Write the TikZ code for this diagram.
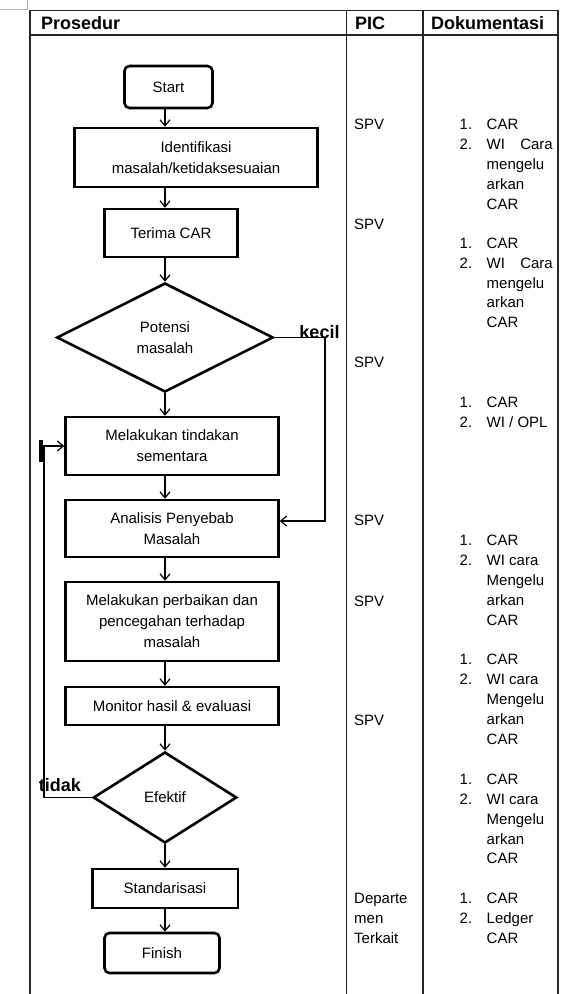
\documentclass[tikz,border=0pt]{standalone}
\usepackage{fontspec}
\setmainfont{Liberation Sans}
\usetikzlibrary{shapes.geometric,arrows.meta}
\newcommand\fsz{\fontsize{15}{20}\selectfont}
\newcommand\ffl{\fontsize{15}{21}\selectfont}
\newcommand\fhd{\fontsize{18}{20}\selectfont\bfseries}
\begin{document}
\begin{tikzpicture}[x=1pt,y=-1pt,
 proc/.style={draw,line width=2.6pt,inner sep=0pt,align=center,font=\ffl},
 term/.style={proc,rounded corners=5pt},
 dec/.style={proc,diamond},
 arr/.style={draw,line width=1.2pt,-{Straight Barb[length=6pt,width=10pt,line width=1.2pt]}},
 tline/.style={line width=1.6pt,black!85},
 txt/.style={font=\fsz,inner sep=0pt,anchor=base west},
 txe/.style={txt,anchor=base east},
 hdr/.style={font=\fhd,inner sep=0pt,anchor=base west},
 lab/.style={font=\fhd,inner sep=0pt,anchor=base}]
\useasboundingbox (0,0) rectangle (561,994);
% frame artifact
\draw[black!25,line width=0.8pt] (0,9.5) -- (28,9.5);
\draw[black!35,line width=1pt] (27.5,0) -- (27.5,9.5);
% table
\draw[tline] (30,994) -- (30,10.5) -- (558,10.5) -- (558,994);
\draw[tline] (30,35) -- (558,35);
\draw[tline] (346.3,10.5) -- (346.3,994);
\draw[tline] (423,10.5) -- (423,994);
% headers
\node[hdr] (h1) at (41,29) {Prosedur};
\node[hdr] (h2) at (355,29) {PIC};
\node[hdr] (h3) at (431,29) {Dokumentasi};
% flow nodes
\node[term,minimum width=88pt,minimum height=42pt] (start) at (168.5,87) {Start};
\node[proc,minimum width=243pt,minimum height=59pt] (ident) at (196,157.5) {Identifikasi\\masalah/ketidaksesuaian};
\node[proc,minimum width=133pt,minimum height=48pt] (terima) at (171,233) {Terima CAR};
\node[dec,minimum width=216.5pt,minimum height=109pt] (pot) at (165,337.5) {Potensi\\masalah};
\node[proc,minimum width=213pt,minimum height=58pt] (tind) at (172,446) {Melakukan tindakan\\sementara};
\node[proc,minimum width=213pt,minimum height=57pt] (ana) at (172,528.5) {Analisis Penyebab\\Masalah};
\node[proc,minimum width=213pt,minimum height=79pt] (perb) at (172,621.5) {Melakukan perbaikan dan\\pencegahan terhadap\\masalah};
\node[proc,minimum width=213pt,minimum height=38pt] (mon) at (172,706) {Monitor hasil \& evaluasi};
\node[dec,minimum width=143.5pt,minimum height=91pt] (eff) at (165,797.5) {Efektif};
\node[proc,minimum width=145.6pt,minimum height=39pt] (std) at (165,888.5) {Standarisasi};
\node[term,minimum width=115pt,minimum height=40pt] (fin) at (162,953) {Finish};
% connectors
\coordinate (ax) at (165,0);
\coordinate (kx) at (325,0);
\coordinate (tx) at (44,0);
\draw[arr] (start.south -| ax) -- (ident.north -| ax);
\draw[arr] (ident.south -| ax) -- (terima.north -| ax);
\draw[arr] (terima.south -| ax) -- (pot.north);
\draw[arr] (pot.south) -- (tind.north -| ax);
\draw[arr] (tind.south -| ax) -- (ana.north -| ax);
\draw[arr] (ana.south -| ax) -- (perb.north -| ax);
\draw[arr] (perb.south -| ax) -- (mon.north -| ax);
\draw[arr] (mon.south -| ax) -- (eff.north);
\draw[arr] (eff.south) -- (std.north -| ax);
\draw[arr] (std.south -| ax) -- (fin.north -| ax);
\draw[arr] (pot.east) -- (pot.east -| kx) |- ([yshift=7.5pt]ana.east);
\draw[arr] (eff.west) -- (eff.west -| tx) |- (tind.west);
\node[lab] (kecil) at (319.5,338) {kecil};
\node[lab] (tidak) at (60,791.7) {tidak};
\draw[line width=3.5pt] (40.8,440) -- (40.8,462);
% PIC column
\node[txt] (p1) at (354,129) {SPV};
\node[txt] (p2) at (354,229) {SPV};
\node[txt] (p3) at (354,367) {SPV};
\node[txt] (p4) at (354,525) {SPV};
\node[txt] (p5) at (354,606) {SPV};
\node[txt] (p6) at (354,725) {SPV};
\node[txt] (p7) at (354,903) {Departe};
\node[txt] (p8) at (354,923) {men};
\node[txt] (p9) at (354,943) {Terkait};
% Dokumentasi column
\node[txt] (a1n) at (459.5,129) {1.}; \node[txt] (a1t) at (486.5,129) {CAR};
\node[txt] (a2n) at (459.5,149) {2.}; \node[txt] (a2t) at (486.5,149) {WI}; \node[txe] (a2c) at (553,149) {Cara};
\node[txt] (a3) at (486.5,169) {mengelu};
\node[txt] (a4) at (486.5,189) {arkan};
\node[txt] (a5) at (486.5,209) {CAR};
\node[txt] (b1n) at (459.5,248) {1.}; \node[txt] (b1t) at (486.5,248) {CAR};
\node[txt] (b2n) at (459.5,268) {2.}; \node[txt] (b2t) at (486.5,268) {WI}; \node[txe] (b2c) at (553,268) {Cara};
\node[txt] (b3) at (486.5,288) {mengelu};
\node[txt] (b4) at (486.5,307) {arkan};
\node[txt] (b5) at (486.5,327) {CAR};
\node[txt] (c1n) at (459.5,407) {1.}; \node[txt] (c1t) at (486.5,407) {CAR};
\node[txt] (c2n) at (459.5,427) {2.}; \node[txt] (c2t) at (486.5,427) {WI / OPL};
\node[txt] (d1n) at (459.5,545) {1.}; \node[txt] (d1t) at (486.5,545) {CAR};
\node[txt] (d2n) at (459.5,565) {2.}; \node[txt] (d2t) at (486.5,565) {WI cara};
\node[txt] (d3) at (486.5,585) {Mengelu};
\node[txt] (d4) at (486.5,605) {arkan};
\node[txt] (d5) at (486.5,625) {CAR};
\node[txt] (e1n) at (459.5,664) {1.}; \node[txt] (e1t) at (486.5,664) {CAR};
\node[txt] (e2n) at (459.5,684) {2.}; \node[txt] (e2t) at (486.5,684) {WI cara};
\node[txt] (e3) at (486.5,704) {Mengelu};
\node[txt] (e4) at (486.5,724) {arkan};
\node[txt] (e5) at (486.5,744) {CAR};
\node[txt] (f1n) at (459.5,784) {1.}; \node[txt] (f1t) at (486.5,784) {CAR};
\node[txt] (f2n) at (459.5,804) {2.}; \node[txt] (f2t) at (486.5,804) {WI cara};
\node[txt] (f3) at (486.5,824) {Mengelu};
\node[txt] (f4) at (486.5,844) {arkan};
\node[txt] (f5) at (486.5,863) {CAR};
\node[txt] (g1n) at (459.5,903) {1.}; \node[txt] (g1t) at (486.5,903) {CAR};
\node[txt] (g2n) at (459.5,923) {2.}; \node[txt] (g2t) at (486.5,923) {Ledger};
\node[txt] (g3) at (486.5,943) {CAR};
\end{tikzpicture}
\end{document}
